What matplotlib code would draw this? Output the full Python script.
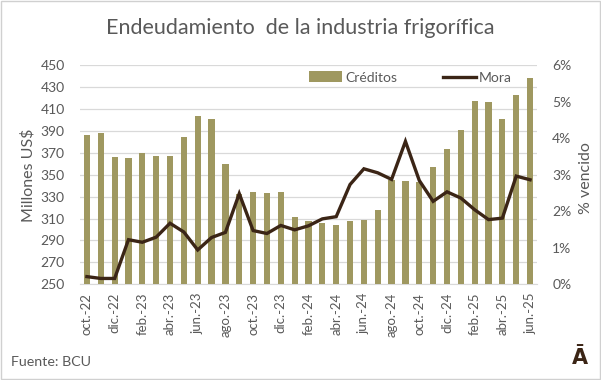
import matplotlib
matplotlib.use("Agg")
import matplotlib.pyplot as plt
from matplotlib.patches import Rectangle
from matplotlib.ticker import PercentFormatter

plt.rcParams['font.family'] = ['Lato', 'DejaVu Sans']

GRAY_TEXT = "#595959"
GRID = "#d9d9d9"
BAR_COLOR = "#9f9860"
LINE_COLOR = "#3b2516"

months = ['oct.-22', 'nov.-22', 'dic.-22', 'ene.-23', 'feb.-23', 'mar.-23', 'abr.-23',
          'may.-23', 'jun.-23', 'jul.-23', 'ago.-23', 'sep.-23', 'oct.-23', 'nov.-23',
          'dic.-23', 'ene.-24', 'feb.-24', 'mar.-24', 'abr.-24', 'may.-24', 'jun.-24',
          'jul.-24', 'ago.-24', 'sep.-24', 'oct.-24', 'nov.-24', 'dic.-24', 'ene.-25',
          'feb.-25', 'mar.-25', 'abr.-25', 'may.-25', 'jun.-25']

# millones de US$
creditos = [386.6, 388.4, 366.5, 365.6, 370.1, 367.4, 367.4, 383.9, 403.1, 400.6,
            360.1, 332.0, 334.5, 333.5, 334.5, 311.6, 307.9, 306.2, 304.4, 307.9,
            308.8, 318.0, 345.2, 344.5, 343.5, 356.7, 373.2, 390.3, 416.8, 415.9,
            401.2, 422.4, 437.8]

# % vencido
mora = [0.21, 0.16, 0.16, 1.22, 1.15, 1.29, 1.67, 1.43, 0.94, 1.28, 1.42, 2.48,
        1.47, 1.39, 1.61, 1.49, 1.60, 1.79, 1.85, 2.73, 3.16, 3.05, 2.87, 3.91,
        2.84, 2.27, 2.53, 2.36, 2.04, 1.77, 1.81, 2.96, 2.86]

W, H = 601, 380
fig = plt.figure(figsize=(W / 100, H / 100), dpi=100)
fig.patch.set_facecolor("white")

left, right, top, bottom = 80, 537, 65, 284.3
ax = fig.add_axes([left / W, 1 - bottom / H, (right - left) / W, (bottom - top) / H])
ax2 = ax.twinx()

x = list(range(len(months)))
bars = ax.bar(x, creditos, width=0.45, color=BAR_COLOR, zorder=2, label="Créditos")
ax.set_ylim(250, 450)
ax.set_xlim(-0.5, len(months) - 0.5)
ax.set_yticks(range(250, 451, 20))
ax.grid(axis="y", color=GRID, linewidth=0.9, zorder=0)
ax.set_axisbelow(True)
for s in ["top", "left", "right"]:
    ax.spines[s].set_visible(False)
ax.spines["bottom"].set_color(GRID)
ax.spines["bottom"].set_zorder(1)
ax.set_xticks(x[::2])
ax.set_xticklabels(months[::2], rotation=90)
ax.tick_params(axis="x", length=0, pad=6, labelsize=9.5, labelcolor=GRAY_TEXT)
ax.tick_params(axis="y", length=0, pad=11, labelsize=10, labelcolor=GRAY_TEXT)

line, = ax2.plot(x, mora, color=LINE_COLOR, linewidth=2.4, solid_joinstyle="miter",
                 label="Mora", zorder=3)
ax2.set_ylim(0, 6)
ax2.set_yticks(range(0, 7))
ax2.yaxis.set_major_formatter(PercentFormatter(decimals=0))
for s in ["top", "left", "right", "bottom"]:
    ax2.spines[s].set_visible(False)
ax2.tick_params(axis="y", length=0, pad=11, labelsize=10, labelcolor=GRAY_TEXT)

fig.text(0.5, 1 - 28 / H, "Endeudamiento  de la industria frigorífica",
         ha="center", va="center", fontsize=15.5, color=GRAY_TEXT)
fig.text(28 / W, 1 - 175 / H, "Millones US$", rotation=90, ha="center", va="center",
         fontsize=11.5, color=GRAY_TEXT)
fig.text(586 / W, 1 - 178 / H, "% vencido", rotation=90, ha="center", va="center",
         fontsize=11.5, color=GRAY_TEXT)
fig.text(11 / W, 1 - 362 / H, "Fuente: BCU", ha="left", va="center",
         fontsize=10.3, color=GRAY_TEXT)
fig.text(580 / W, 1 - 358 / H, "Ā", ha="center", va="center", fontsize=15,
         fontweight="bold", family="DejaVu Sans", color=LINE_COLOR)

fig.legend([bars, line], ["Créditos", "Mora"], loc="center left",
           bbox_to_anchor=(309 / W, 1 - 77.5 / H), ncol=2, frameon=False,
           fontsize=10, labelcolor=GRAY_TEXT, handlelength=2.4, handleheight=0.8,
           handletextpad=0.2, columnspacing=3.3, borderpad=0, borderaxespad=0)

fig.add_artist(Rectangle((0.001, 0.002), 0.997, 0.995, transform=fig.transFigure,
                         fill=False, edgecolor="#d0d0d0", linewidth=1))

fig.savefig("out.png", dpi=100)
